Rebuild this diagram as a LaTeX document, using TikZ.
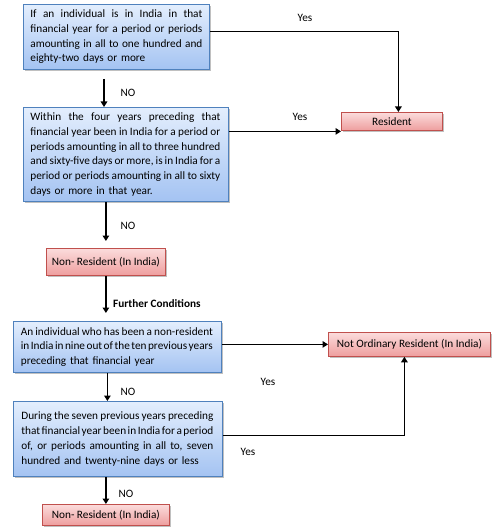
\documentclass[tikz,border=0pt]{standalone}
\usepackage{fontspec}
\setmainfont{Carlito}
\usetikzlibrary{shadows,arrows.meta,calc}
\definecolor{bborder}{HTML}{4F81BD}
\definecolor{btop}{HTML}{E3EEFD}
\definecolor{bbot}{HTML}{A4C3F2}
\definecolor{rborder}{HTML}{C0504D}
\definecolor{rtop}{HTML}{FBDCDC}
\definecolor{rbot}{HTML}{EE9E9E}
\newcommand\bxfont{\fontsize{11.3}{14.8}\selectfont}
\newlength\lw
\newcommand\jl[1]{\makebox[\lw][s]{\spaceskip=.24em plus 1fil minus .16em\relax #1}\\}
\tikzset{
  boxshadow/.style={drop shadow={shadow xshift=2bp, shadow yshift=-2bp, opacity=0.35, fill=black!70}},
  bluebox/.style={draw=bborder, line width=0.8bp, top color=btop, bottom color=bbot, boxshadow,
    anchor=north west, inner ysep=0pt, align=left, font=\bxfont},
  redbox/.style={draw=rborder, line width=0.8bp, top color=rtop, bottom color=rbot, boxshadow,
    anchor=north west, inner sep=0pt, align=center, font=\bxfont},
  arr/.style={line width=1.6bp, -{Triangle[length=5.5bp,width=6.5bp]}},
  lbl/.style={font=\bxfont, inner sep=0pt},
}
\begin{document}
\begin{tikzpicture}[x=1bp,y=-1bp]
\useasboundingbox (0,0) rectangle (501,532);
\fill[white] (0,0) rectangle (501,532);
% blue decision boxes
\node[bluebox, minimum width=186bp, minimum height=65bp, inner xsep=7bp, text width=172bp] (b1) at (23,4)
 {\setlength\lw{172bp}\jl{If an individual is in India in that}\jl{financial year for a period or periods}\jl{amounting in all to one hundred and}eighty-two days or more};
\node[bluebox, minimum width=205bp, minimum height=94bp, inner xsep=7bp, text width=191bp] (b2) at (23,107)
 {\setlength\lw{190bp}\jl{Within the four years preceding that}\jl{financial year been in India for a period or}\jl{periods amounting in all to three hundred}\jl{and sixty-five days or more, is in India for a}\jl{period or periods amounting in all to sixty}days or more in that year.};
\node[bluebox, minimum width=208bp, minimum height=51bp, inner xsep=7.5bp, text width=193bp] (b3) at (13,321)
 {\setlength\lw{192bp}\jl{An individual who has been a non-resident}\jl{in India in nine out of the ten previous years}preceding that financial year};
\node[bluebox, minimum width=209bp, minimum height=75bp, inner xsep=8bp, text width=193bp] (b4) at (13,401)
 {\setlength\lw{192bp}\jl{During the seven previous years preceding}\jl{that financial year been in India for a period}\jl{of, or periods amounting in all to, seven}hundred and twenty-nine days or less\\[8bp]};
% red result boxes
\node[redbox, minimum width=101bp, minimum height=18bp] (res) at (341,112) {Resident};
\node[redbox, minimum width=119bp, minimum height=27bp] (nr1) at (46,248) {Non- Resident (In India)};
\node[redbox, minimum width=162bp, minimum height=24bp] (nro) at (328,332) {Not Ordinary Resident (In India)};
\node[redbox, minimum width=127bp, minimum height=21bp] (nr2) at (42,504) {Non- Resident (In India)};
% connectors
\coordinate (c1) at (104,79);
\draw[arr] (c1) -- (c1 |- b2.north);
\draw[arr] ([yshift=5.5bp]b1.east) -| ([xshift=6.5bp]res.north);
\draw[arr] ([yshift=23bp]b2.east) coordinate (s2) -- (s2 -| res.west);
\draw[arr, shorten >=7bp] (b2.south -| nr1.north) -- (nr1.north);
\draw[arr, shorten >=8bp] (nr1.south) -- (nr1.south |- b3.north);
\draw[arr] ([xshift=-10bp]b3.south) coordinate (s4) -- (s4 |- b4.north);
\draw[arr] (b4.south -| nr2.north) -- (nr2.north);
\draw[arr] (b3.east |- nro.west) -- (nro.west);
\draw[arr] ([yshift=3.5bp]b4.east) -| ([xshift=-5bp]nro.south);
% labels
\node[lbl] (y1) at (305,18) {Yes};
\node[lbl] (y2) at (300,117) {Yes};
\node[lbl] (n1) at (128,93) {NO};
\node[lbl] (n2) at (128,226) {NO};
\node[lbl, anchor=west] (fc) at (113,304) {\bfseries Further Conditions};
\node[lbl] (y3) at (268,382) {Yes};
\node[lbl] (y4) at (248,452) {Yes};
\node[lbl] (n3) at (128,392) {NO};
\node[lbl] (n4) at (126,494) {NO};
\end{tikzpicture}
\end{document}
